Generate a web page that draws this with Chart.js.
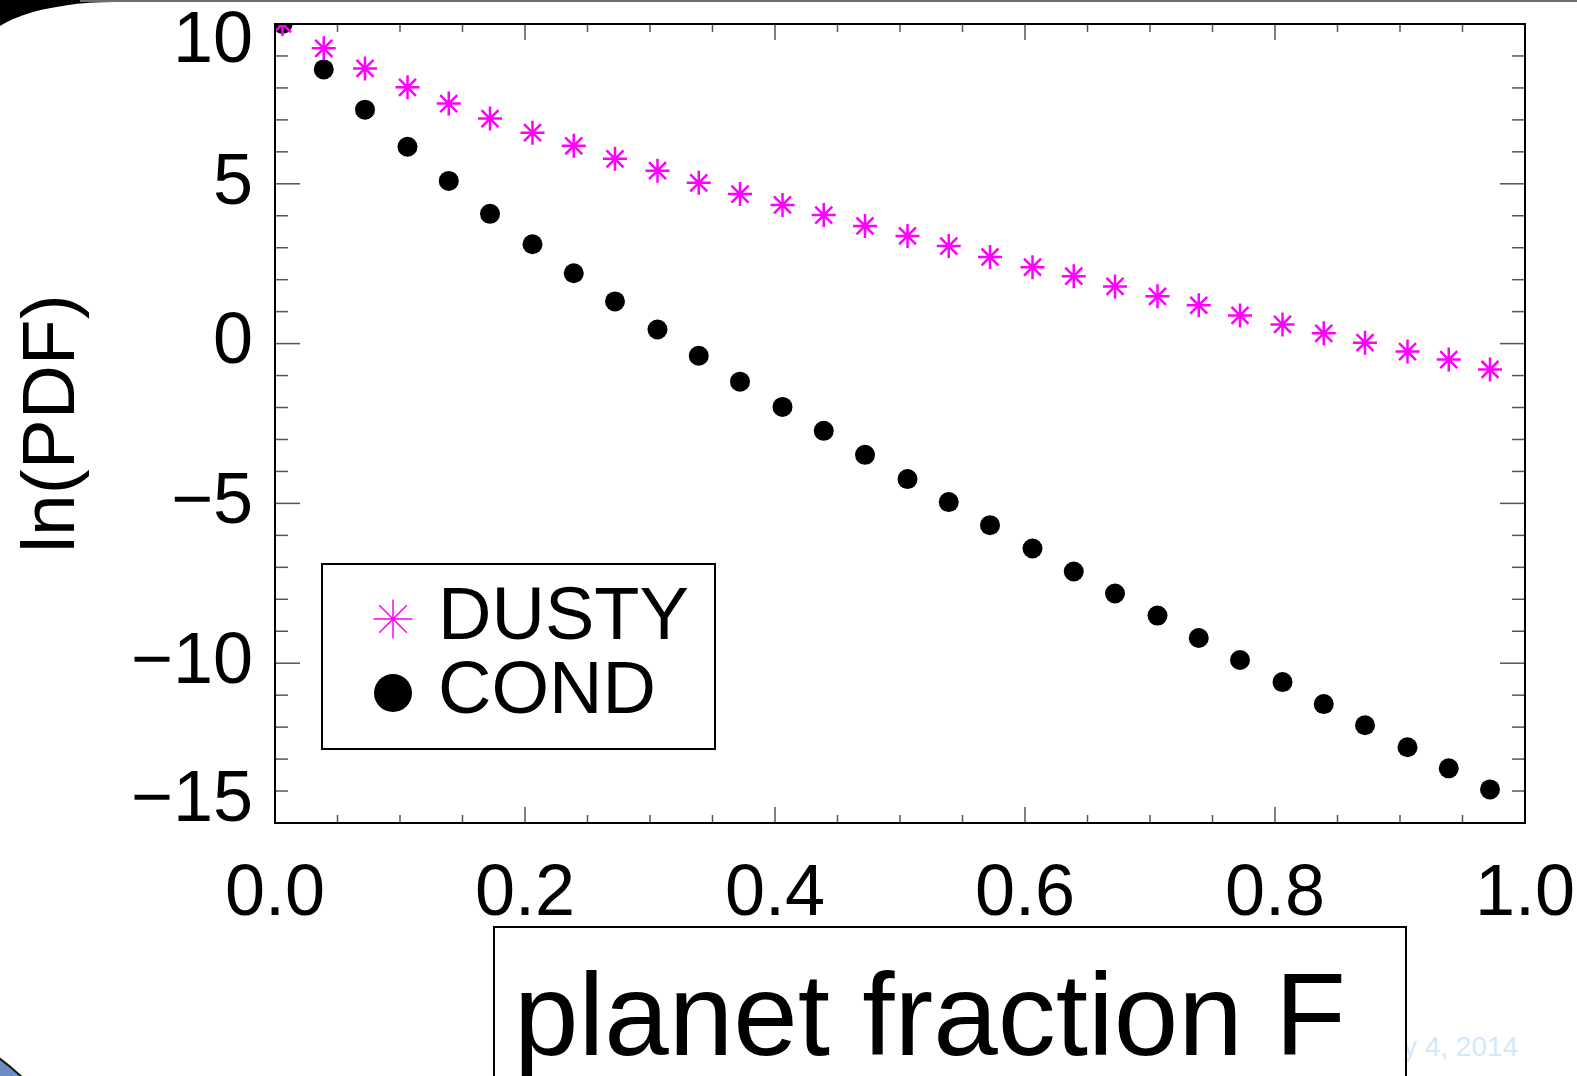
<!DOCTYPE html>
<html>
<head>
<meta charset="utf-8">
<script src="https://cdn.jsdelivr.net/npm/chart.js@4.4.1/dist/chart.umd.min.js"></script>
<style>
html,body{margin:0;padding:0;overflow:hidden;background:#fff}
#pagina{position:relative;width:1577px;height:1076px;overflow:hidden;background:#000}
#hoja{position:absolute;left:-15px;top:2px;width:1620px;height:1100px;background:#fff;border-top-left-radius:130px 45px}
#linea{position:absolute;left:80px;top:0;width:1500px;height:2px;background:#6e6e6e}
#mancha{position:absolute;left:-402px;top:1008px;width:504px;height:504px;border-radius:50%;background:#6b8dc4;border:2px solid #111;box-sizing:border-box}
#fecha{position:absolute;left:1364px;top:1033px;font:28px "Liberation Sans",Arial,sans-serif;line-height:28px;color:#d4e8fb;white-space:nowrap}
#grafico{position:absolute;left:0;top:0}
</style>
</head>
<body>
<div id="pagina">
  <div id="hoja"></div>
  <div id="linea"></div>
  <div id="mancha"></div>
  <div id="fecha">May 4, 2014</div>
  <canvas id="grafico" width="1577" height="1076"></canvas>
</div>
<script>
'use strict'

// datos
const fraccion = [0.006,0.039,0.072,0.106,0.139,0.172,0.206,0.239,0.272,0.306,0.339,0.372,0.406,0.439,0.472,
                  0.506,0.539,0.572,0.606,0.639,0.672,0.706,0.739,0.772,0.806,0.839,0.872,0.906,0.939,0.972]
const dusty = [10.0,9.24,8.61,8.02,7.51,7.04,6.60,6.19,5.78,5.41,5.03,4.68,4.34,4.02,3.68,
               3.37,3.05,2.71,2.39,2.11,1.79,1.48,1.20,0.88,0.60,0.32,0.03,-0.25,-0.50,-0.81]
const cond = [10.0,8.58,7.32,6.16,5.09,4.06,3.11,2.20,1.32,0.44,-0.38,-1.19,-1.98,-2.73,-3.48,
              -4.24,-4.96,-5.68,-6.41,-7.13,-7.82,-8.51,-9.21,-9.90,-10.59,-11.28,-11.94,-12.63,-13.29,-13.95]
const xTicks = [0, 0.2, 0.4, 0.6, 0.8, 1.0]
const yTicks = [-15, -10, -5, 0, 5, 10]
const tituloX = 'planet fraction F'
const tituloY = 'ln(PDF)'

const fuente = '"Liberation Sans", Arial, Helvetica, sans-serif'
Chart.defaults.font.family = fuente
Chart.defaults.color = '#000'

const etiquetaY = v => v < 0 ? '\u2212' + Math.abs(v) : String(v)

// marco con marcas hacia adentro, etiquetas de los extremos, leyenda y titulo del eje x
const marcoIDL = {
  id: 'marcoIDL',
  afterDraw(chart) {
    const {ctx, chartArea: a, scales: {x, y}} = chart
    ctx.save()

    const linea = (x1, y1, x2, y2) => { ctx.beginPath(); ctx.moveTo(x1, y1); ctx.lineTo(x2, y2); ctx.stroke() }
    ctx.strokeStyle = '#555'
    ctx.lineWidth = 1.5
    for (let i = 0; i <= 20; i++) {
      const px = x.getPixelForValue(i * 0.05)
      const len = i % 4 === 0 ? 16 : 8
      linea(px, a.bottom, px, a.bottom - len)
      linea(px, a.top, px, a.top + len)
    }
    for (let v = -15; v <= 10; v++) {
      const py = y.getPixelForValue(v)
      const len = v % 5 === 0 ? 25 : 13
      linea(a.left, py, a.left + len, py)
      linea(a.right, py, a.right - len, py)
    }
    ctx.strokeStyle = '#000'
    ctx.lineWidth = 2
    ctx.strokeRect(a.left, a.top, a.right - a.left, a.bottom - a.top)

    // etiquetas de los extremos del eje y, corridas hacia adentro
    ctx.fillStyle = '#000'
    ctx.font = '72px ' + fuente
    ctx.textAlign = 'right'
    ctx.textBaseline = 'middle'
    const top = yTicks[yTicks.length - 1], bot = yTicks[0]
    ctx.fillText(etiquetaY(top), a.left - 22, y.getPixelForValue(top) + 18)
    ctx.fillText(etiquetaY(bot), a.left - 22, y.getPixelForValue(bot) - 22)

    // leyenda
    ctx.lineWidth = 2
    ctx.strokeRect(322, 564, 393, 185)
    const ds = chart.data.datasets
    ctx.strokeStyle = '#ff00ff'
    ctx.lineWidth = 1.5
    Chart.helpers.drawPoint(ctx, {pointStyle: 'star', radius: 19.5, borderWidth: 1.5, rotation: 0}, 393, 619)
    ctx.fillStyle = '#000'
    ctx.strokeStyle = '#000'
    Chart.helpers.drawPoint(ctx, {pointStyle: 'circle', radius: 19, borderWidth: 0, rotation: 0}, 393, 693)
    ctx.font = '74px ' + fuente
    ctx.textAlign = 'left'
    ctx.textBaseline = 'alphabetic'
    ctx.fillText(ds[0].label, 438, 639)
    ctx.fillText(ds[1].label, 438, 713)

    // titulo del eje x en su caja
    ctx.fillStyle = '#fff'
    ctx.fillRect(494, 927, 912, 200)
    ctx.strokeStyle = '#000'
    ctx.lineWidth = 2
    ctx.strokeRect(494, 927, 912, 200)
    ctx.fillStyle = '#000'
    ctx.font = '116px ' + fuente
    ctx.fillText(tituloX, 514, 1055)

    ctx.restore()
  }
}

const data = {
  datasets: [{
    label: 'DUSTY',
    data: fraccion.map((f, i) => ({x: f, y: dusty[i]})),
    pointStyle: 'star',
    pointRadius: 12,
    pointBorderWidth: 2.5,
    borderColor: '#ff00ff',
    backgroundColor: '#ff00ff',
    showLine: false,
    clip: 0
  }, {
    label: 'COND',
    data: fraccion.map((f, i) => ({x: f, y: cond[i]})),
    pointStyle: 'circle',
    pointRadius: 10,
    pointBorderWidth: 0,
    borderColor: '#000',
    backgroundColor: '#000',
    showLine: false,
    clip: 0
  }]
}

const config = {
  type: 'scatter',
  data: data,
  options: {
    responsive: false,
    animation: false,
    events: [],
    layout: {padding: {top: 24, right: 52, left: 0, bottom: 0}},
    plugins: {legend: {display: false}, tooltip: {enabled: false}},
    scales: {
      x: {
        type: 'linear',
        min: 0,
        max: 1,
        afterBuildTicks: s => { s.ticks = xTicks.map(v => ({value: v})) },
        afterFit: s => { s.height = 253; s.paddingLeft = 0; s.paddingRight = 0 },
        grid: {display: false, drawTicks: false},
        border: {display: false},
        ticks: {
          font: {size: 72},
          color: '#000',
          padding: 29,
          maxRotation: 0,
          autoSkip: false,
          callback: v => v.toFixed(1)
        }
      },
      y: {
        type: 'linear',
        min: -15,
        max: 10,
        afterBuildTicks: s => { s.ticks = yTicks.map(v => ({value: v})) },
        afterFit: s => { s.width = 275; s.paddingTop = 0; s.paddingBottom = 0 },
        grid: {display: false, drawTicks: false},
        border: {display: false},
        ticks: {
          font: {size: 72},
          color: '#000',
          padding: 22,
          autoSkip: false,
          callback: (v, i) => (i === 0 || i === yTicks.length - 1) ? '' : etiquetaY(v)
        },
        title: {display: true, text: tituloY, font: {size: 75}, color: '#000', padding: {top: 8, bottom: 0}}
      }
    }
  },
  plugins: [marcoIDL]
}

let grafico = new Chart(document.querySelector('#grafico'), config)
</script>
</body>
</html>
